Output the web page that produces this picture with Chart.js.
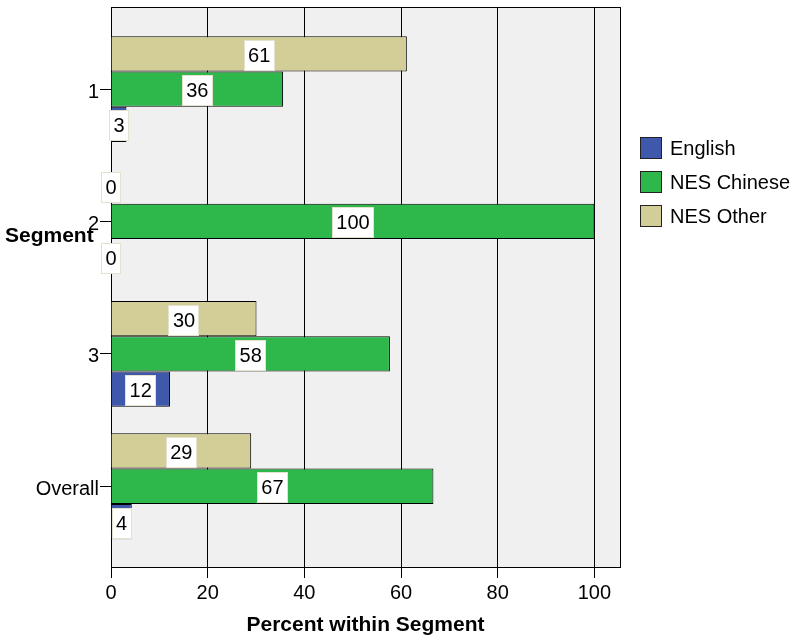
<!DOCTYPE html>
<html>
<head>
<meta charset="utf-8">
<script src="https://cdn.jsdelivr.net/npm/chart.js@4/dist/chart.umd.min.js"></script>
<style>
  html, body { margin: 0; padding: 0; background: #ffffff; }
  #wrap { position: relative; width: 798px; height: 638px; }
  #legend { position: absolute; left: 640px; top: 131px; font-family: "Liberation Sans", Arial, sans-serif; font-size: 20px; color: #000; }
  .item { display: flex; align-items: center; height: 34px; }
  .sw { width: 22px; height: 22px; box-sizing: border-box; border: 1px solid #222; margin-right: 8px; }
</style>
</head>
<body>
<div id="wrap">
  <canvas id="c" width="798" height="638"></canvas>
  <div id="legend"></div>
</div>
<script>
const categories = ['1', '2', '3', 'Overall'];
const seriesNames = ['English', 'NES Chinese', 'NES Other'];
const english = [3.2, 0, 12.2, 4.3];
const nesChinese = [35.6, 100, 57.7, 66.7];
const nesOther = [61.2, 0, 30.1, 29.0];
const xTicks = [0, 20, 40, 60, 80, 100];
const seriesColors = ['#3f58ab', '#2eb84b', '#d3ce98'];
const xTitle = 'Percent within Segment';
const yTitle = 'Segment';

const FONT = '"Liberation Sans", Arial, Helvetica, sans-serif';
Chart.defaults.font.family = FONT;
Chart.defaults.font.size = 20;
Chart.defaults.color = '#000';

const seriesValues = [english, nesChinese, nesOther];
// datasets drawn top-to-bottom within each group: NES Other, NES Chinese, English
const order = [2, 1, 0];
const datasets = order.map(k => ({
  label: seriesNames[k],
  data: seriesValues[k].map((v, i) => ({ x: v, y: i })),
  backgroundColor: seriesColors[k],
  borderColor: '#000',
  borderWidth: 1,
  borderSkipped: 'start',
  categoryPercentage: 0.8,
  barPercentage: 1.0
}));

const plotFrame = {
  id: 'plotFrame',
  beforeDraw(chart) {
    const a = chart.chartArea, ctx = chart.ctx;
    ctx.save();
    ctx.fillStyle = '#f0f0f0';
    ctx.fillRect(a.left, a.top, a.right - a.left, a.bottom - a.top);
    ctx.restore();
  },
  beforeDatasetsDraw(chart) {
    const a = chart.chartArea, ctx = chart.ctx;
    ctx.save();
    ctx.strokeStyle = '#000';
    ctx.lineWidth = 1;
    ctx.strokeRect(Math.round(a.left) + 0.5, Math.round(a.top) + 0.5, Math.round(a.right - a.left), Math.round(a.bottom - a.top));
    ctx.restore();
  },
  afterDatasetsDraw(chart) {
    const ctx = chart.ctx;
    ctx.save();
    ctx.font = '20px ' + FONT;
    ctx.textAlign = 'center';
    ctx.textBaseline = 'middle';
    chart.data.datasets.forEach((ds, di) => {
      const meta = chart.getDatasetMeta(di);
      meta.data.forEach((bar, i) => {
        const v = ds.data[i].x;
        const txt = String(Math.round(v));
        const p = bar.getProps(['x', 'y', 'base', 'height'], true);
        const cx = (p.x + p.base) / 2;
        const cy = p.y + 1.5;
        const w = ctx.measureText(txt).width + 9;
        const h = 31;
        ctx.fillStyle = '#ffffff';
        ctx.fillRect(Math.round(cx - w / 2), Math.round(cy - h / 2), Math.round(w), h);
        ctx.strokeStyle = '#e4e1cf';
        ctx.lineWidth = 1;
        ctx.strokeRect(Math.round(cx - w / 2) + 0.5, Math.round(cy - h / 2) + 0.5, Math.round(w) - 1, h - 1);
        ctx.fillStyle = '#000';
        ctx.fillText(txt, cx, cy + 1);
      });
    });
    ctx.restore();
  },
  afterDraw(chart) {
    const ctx = chart.ctx;
    ctx.save();
    ctx.font = 'bold 21px ' + FONT;
    ctx.textAlign = 'left';
    ctx.textBaseline = 'middle';
    ctx.fillStyle = '#000';
    ctx.fillText(yTitle, 5, 236);
    ctx.restore();
  }
};

new Chart(document.getElementById('c'), {
  type: 'bar',
  data: { datasets },
  options: {
    indexAxis: 'y',
    responsive: false,
    animation: false,
    devicePixelRatio: 1,
    layout: { padding: { top: 7, right: 178, left: 0, bottom: 0 } },
    plugins: { legend: { display: false }, tooltip: { enabled: false } },
    scales: {
      x: {
        type: 'linear',
        min: 0,
        max: 105.3,
        offset: false,
        afterBuildTicks: s => { s.ticks = xTicks.map(v => ({ value: v })); },
        afterFit: s => { s.height = 71; s.paddingLeft = 0; s.paddingRight = 0; },
        ticks: { padding: 3, font: { size: 20 }, color: '#000', maxRotation: 0 },
        grid: { color: '#000', lineWidth: 1, tickLength: 11, drawOnChartArea: true, tickColor: '#000', offset: false },
        border: { display: true, color: '#000', width: 1 },
        title: { display: true, text: xTitle, font: { size: 21, weight: 'bold' }, color: '#000', padding: { top: 0, bottom: 0 } }
      },
      y: {
        type: 'linear',
        reverse: true,
        min: -0.62,
        max: 3.61,
        offset: false,
        afterBuildTicks: s => { s.ticks = categories.map((c, i) => ({ value: i })); },
        afterFit: s => { s.width = 111; s.paddingTop = 0; s.paddingBottom = 0; },
        ticks: { padding: 1, labelOffset: 3, font: { size: 20 }, color: '#000', callback: v => categories[v] },
        grid: { color: '#000', lineWidth: 1, tickLength: 11, drawOnChartArea: false, tickColor: '#000', offset: false },
        border: { display: true, color: '#000', width: 1 }
      }
    }
  },
  plugins: [plotFrame]
});

const legend = document.getElementById('legend');
seriesNames.forEach((name, k) => {
  const row = document.createElement('div');
  row.className = 'item';
  const sw = document.createElement('div');
  sw.className = 'sw';
  sw.style.background = seriesColors[k];
  const t = document.createElement('span');
  t.textContent = name;
  row.appendChild(sw);
  row.appendChild(t);
  legend.appendChild(row);
});
</script>
</body>
</html>
